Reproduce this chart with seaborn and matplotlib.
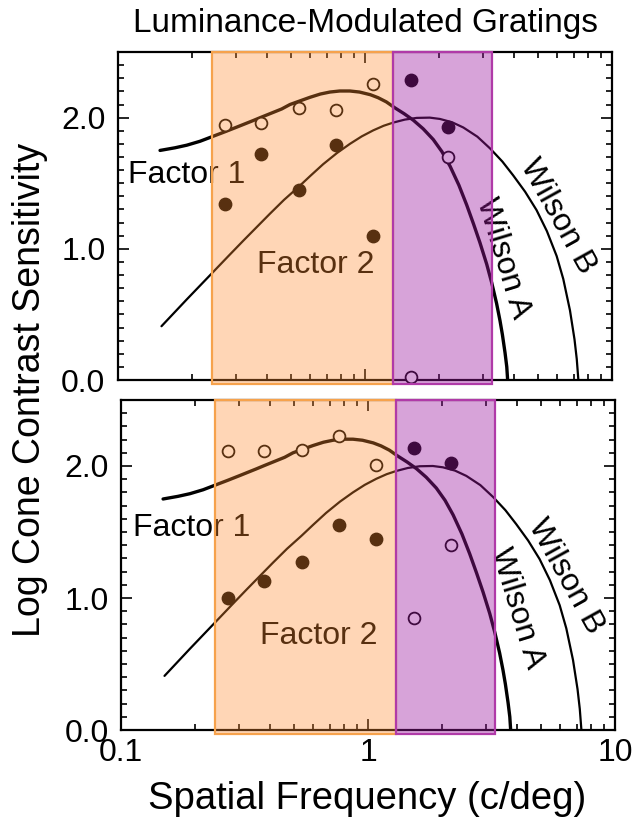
import matplotlib
matplotlib.use("Agg")
import matplotlib.pyplot as plt
import seaborn as sns
from matplotlib.ticker import LogLocator, MultipleLocator, NullFormatter

# spatial frequency of the measured points (c/deg)
sf_points = [0.27, 0.38, 0.54, 0.76, 1.08, 1.53, 2.16]

# log cone contrast sensitivity, top panel
top_open = [1.94, 1.96, 2.07, 2.06, 2.26, 0.02, 1.70]
top_filled = [1.34, 1.72, 1.45, 1.79, 1.10, 2.29, 1.93]

# bottom panel
bot_open = [2.11, 2.11, 2.12, 2.23, 2.01, 0.85, 1.40]
bot_filled = [1.00, 1.13, 1.27, 1.55, 1.45, 2.14, 2.02]

# Factor 1 / Wilson A curve
wa_sf = [0.148, 0.17, 0.19, 0.215, 0.239, 0.27, 0.302, 0.33, 0.353, 0.38,
         0.42, 0.46, 0.497, 0.55, 0.599, 0.66, 0.721, 0.79, 0.869, 0.95,
         1.05, 1.13, 1.22, 1.32, 1.44, 1.57, 1.72, 1.89, 2.05, 2.21, 2.40,
         2.58, 2.75, 2.92, 3.11, 3.26, 3.41, 3.52, 3.60, 3.69, 3.75, 3.78]
wa_sens = [1.75, 1.77, 1.79, 1.82, 1.853, 1.891, 1.927, 1.956, 1.978, 2.003,
           2.036, 2.066, 2.10, 2.13, 2.155, 2.18, 2.195, 2.203, 2.203, 2.195,
           2.175, 2.152, 2.12, 2.075, 2.03, 1.98, 1.915, 1.833, 1.74, 1.63,
           1.485, 1.335, 1.19, 1.047, 0.883, 0.74, 0.584, 0.453, 0.346, 0.207,
           0.10, 0.0]

# Factor 2 / Wilson B curve
wb_sf = [0.150, 0.19, 0.239, 0.28, 0.322, 0.37, 0.412, 0.47, 0.537, 0.60,
         0.677, 0.77, 0.869, 0.97, 1.08, 1.19, 1.30, 1.45, 1.62, 1.83,
         2.01, 2.25, 2.50, 2.85, 3.21, 3.60, 3.98, 4.45, 4.95, 5.45, 5.97,
         6.35, 6.76, 7.05, 7.20, 7.31]
wb_sens = [0.41, 0.615, 0.81, 0.945, 1.063, 1.178, 1.267, 1.373, 1.47, 1.555,
           1.645, 1.73, 1.80, 1.857, 1.903, 1.938, 1.962, 1.985, 1.998, 2.0,
           1.99, 1.965, 1.925, 1.855, 1.765, 1.665, 1.56, 1.435, 1.295, 1.135,
           0.945, 0.77, 0.53, 0.31, 0.16, 0.0]

# shaded frequency bands
orange_band = (0.24, 1.30)
purple_band = (1.30, 3.28)

sns.set_theme(style="ticks")
plt.rcParams['font.family'] = ['Liberation Sans', 'DejaVu Sans']
plt.rcParams['text.color'] = 'black'
plt.rcParams['xtick.color'] = 'black'
plt.rcParams['ytick.color'] = 'black'
plt.rcParams['xtick.labelcolor'] = 'black'
plt.rcParams['ytick.labelcolor'] = 'black'

fig = plt.figure(figsize=(6.44, 8.22), dpi=100)
ax_top = fig.add_axes([0.1832, 0.5377, 0.7671, 0.3990])
ax_bot = fig.add_axes([0.1879, 0.1119, 0.7671, 0.4015])


def draw_panel(ax, open_y, filled_y, labels, show_x):
    sns.lineplot(x=wa_sf, y=wa_sens, ax=ax, color='black', lw=2.4,
                 estimator=None, sort=False, zorder=3)
    sns.lineplot(x=wb_sf, y=wb_sens, ax=ax, color='black', lw=1.6,
                 estimator=None, sort=False, zorder=3)
    sns.scatterplot(x=sf_points, y=filled_y, ax=ax, color='black',
                    edgecolor='black', s=80, linewidth=1, zorder=4,
                    clip_on=False, legend=False)
    sns.scatterplot(x=sf_points, y=open_y, ax=ax, color='white',
                    edgecolor='black', s=72, linewidth=1.3, zorder=4,
                    clip_on=False, legend=False)

    for txt, x, y, rot in labels:
        ha = 'left' if rot == 0 else 'center'
        ax.text(x, y, txt, fontsize=23, ha=ha, va='center', rotation=rot,
                rotation_mode='anchor', color='black', zorder=3)

    # translucent bands drawn over everything, like the original overlay
    ax.axvspan(*orange_band, ymin=-0.012, ymax=1.0, facecolor='#FF8C30',
               alpha=0.35, lw=0, zorder=10, clip_on=False)
    ax.axvspan(*orange_band, ymin=-0.012, ymax=1.0, fill=False,
               edgecolor='#F6A24C', lw=1.6, zorder=11, clip_on=False)
    ax.axvspan(*purple_band, ymin=-0.012, ymax=1.0, facecolor='#9D19A0',
               alpha=0.4, lw=0, zorder=10, clip_on=False)
    ax.axvspan(*purple_band, ymin=-0.012, ymax=1.0, fill=False,
               edgecolor='#B03AA8', lw=1.6, zorder=11, clip_on=False)

    ax.set_xscale('log')
    ax.set_xlim(0.1, 10)
    ax.set_ylim(0, 2.5)
    ax.set_xticks([0.1, 1, 10], labels=['0.1', '1', '10'])
    ax.xaxis.set_minor_locator(LogLocator(base=10, subs=range(2, 10)))
    ax.xaxis.set_minor_formatter(NullFormatter())
    ax.set_yticks([0, 1, 2], labels=['0.0', '1.0', '2.0'])
    ax.yaxis.set_minor_locator(MultipleLocator(0.1))
    ax.tick_params(which='both', direction='in', top=True, right=True,
                   width=1.2, color='black', labelcolor='black',
                   labelsize=23)
    ax.tick_params(which='major', length=8)
    ax.tick_params(which='minor', length=4)
    ax.tick_params(axis='y', pad=9)
    ax.tick_params(axis='x', pad=6, labelbottom=show_x)
    for sp in ax.spines.values():
        sp.set_linewidth(1.6)
        sp.set_color('black')
    ax.set_xlabel('')
    ax.set_ylabel('')


draw_panel(ax_top, top_open, top_filled,
           [('Factor 1', 0.110, 1.56, 0), ('Factor 2', 0.364, 0.88, 0),
            ('Wilson A', 3.63, 0.93, -73), ('Wilson B', 6.05, 1.25, -61)],
           show_x=False)
draw_panel(ax_bot, bot_open, bot_filled,
           [('Factor 1', 0.112, 1.53, 0), ('Factor 2', 0.366, 0.71, 0),
            ('Wilson A', 4.0, 0.92, -73), ('Wilson B', 6.3, 1.16, -61)],
           show_x=True)

fig.text(0.567, 0.972, 'Luminance-Modulated Gratings', ha='center',
         va='center', fontsize=24)
fig.text(0.570, 0.028, 'Spatial Frequency (c/deg)', ha='center',
         va='center', fontsize=27.5)
fig.text(0.047, 0.526, 'Log Cone Contrast Sensitivity', ha='center',
         va='center', rotation=90, fontsize=27)

fig.savefig('out.png', dpi=100)
plt.close(fig)
